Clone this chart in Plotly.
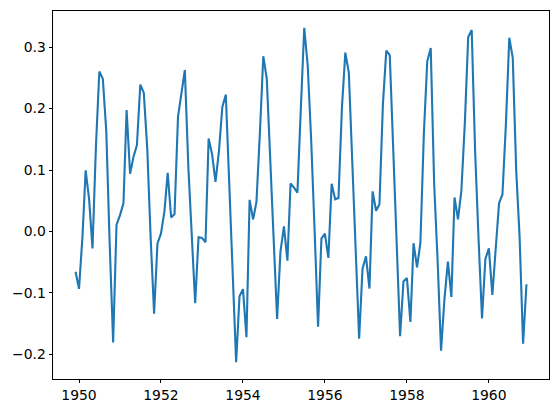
import pandas as pd
import plotly.graph_objects as go

# Log airline passengers minus 12-month moving average, monthly 1949-12 .. 1960-12
start_month = "1949-12-01"
values = [
    -0.0655, -0.0934, -0.0076, 0.0994, 0.0521, -0.0275, 0.1399, 0.2602, 0.2486, 0.1629, -0.0186, -0.1804,
    0.0108, 0.0266, 0.0460, 0.1977, 0.0940, 0.1211, 0.1406, 0.2390, 0.2258, 0.1348, -0.0090, -0.1336,
    -0.0194, -0.0035, 0.0326, 0.0956, 0.0227, 0.0285, 0.1866, 0.2281, 0.2627, 0.1055, 0.0017, -0.1167,
    -0.0094, -0.0105, -0.0176, 0.1514, 0.1254, 0.0808, 0.1311, 0.2025, 0.2226, 0.0744, -0.0501, -0.2128,
    -0.1054, -0.0939, -0.1721, 0.0514, 0.0196, 0.0482, 0.1619, 0.2852, 0.2487, 0.1180, -0.0119, -0.1425,
    -0.0328, 0.0082, -0.0476, 0.0780, 0.0713, 0.0631, 0.2025, 0.3315, 0.2696, 0.1477, 0.0029, -0.1551,
    -0.0116, -0.0036, -0.0430, 0.0776, 0.0523, 0.0545, 0.2024, 0.2910, 0.2586, 0.1161, -0.0417, -0.1743,
    -0.0608, -0.0405, -0.0929, 0.0653, 0.0337, 0.0445, 0.2073, 0.2944, 0.2869, 0.1312, -0.0314, -0.1703,
    -0.0813, -0.0758, -0.1473, -0.0191, -0.0585, -0.0182, 0.1603, 0.2768, 0.2984, 0.0753, -0.0457, -0.1938,
    -0.1105, -0.0492, -0.1066, 0.0554, 0.0197, 0.0664, 0.1763, 0.3164, 0.3278, 0.1281, -0.0113, -0.1414,
    -0.0445, -0.0275, -0.1031, -0.0365, 0.0463, 0.0602, 0.1750, 0.3152, 0.2824, 0.0982, -0.0092, -0.1827,
    -0.0858,
]
x_tick_years = [1950, 1952, 1954, 1956, 1958, 1960]
y_ticks = [-0.2, -0.1, 0.0, 0.1, 0.2, 0.3]

dates = pd.date_range(start_month, periods=len(values), freq="MS")

# matplotlib-like 5% margins
span = dates[-1] - dates[0]
x_range = [dates[0] - span * 0.05, dates[-1] + span * 0.05]
vmin, vmax = min(values), max(values)
vspan = vmax - vmin
y_range = [vmin - 0.05 * vspan, vmax + 0.05 * vspan]

fig = go.Figure()
fig.add_trace(go.Scatter(x=dates, y=values, mode="lines",
                         line=dict(color="#1f77b4", width=2.1)))

axis_common = dict(showline=True, linecolor="black", linewidth=0.8, mirror=True,
                   ticks="outside", ticklen=3.5, tickwidth=0.8, tickcolor="black",
                   showgrid=False, zeroline=False,
                   tickfont=dict(family="DejaVu Sans", size=13.9, color="black"))

# page body has an 8px margin, so the figure is sized to fit inside the window
fig.update_layout(
    width=543, height=397,
    margin=dict(l=45.3, r=1.7, t=2.7, b=26),
    paper_bgcolor="white", plot_bgcolor="white",
    showlegend=False,
    xaxis=dict(range=x_range,
               tickvals=[pd.Timestamp(f"{y}-01-01") for y in x_tick_years],
               ticktext=[str(y) for y in x_tick_years], **axis_common),
    yaxis=dict(range=y_range, tickvals=y_ticks,
               ticktext=[f"{t:.1f}".replace("-", "\u2212") for t in y_ticks], **axis_common),
)
fig.write_html("out.html")
